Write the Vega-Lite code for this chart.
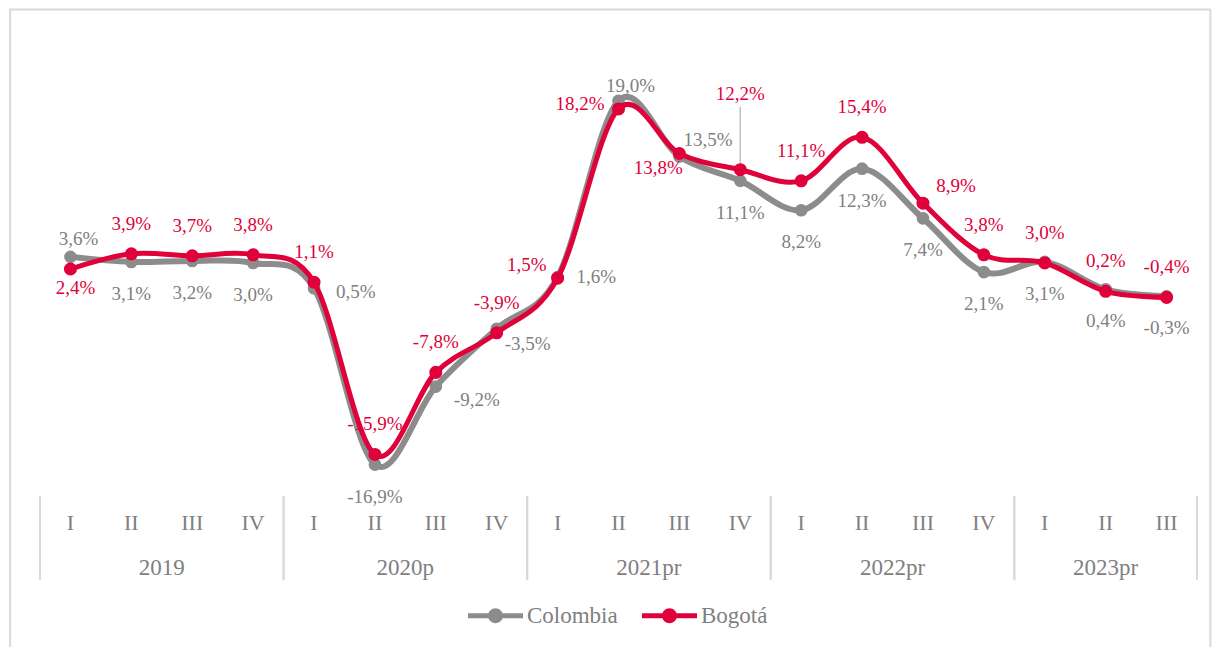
{
  "$schema": "https://vega.github.io/schema/vega-lite/v6.json",
  "autosize": {"type": "none"},
  "width": 1157,
  "height": 456,
  "padding": {"left": 40, "top": 40, "right": 17, "bottom": 151},
  "background": "white",
  "config": {"view": {"stroke": null}},
  "data": {"values": [
    {"t":0,"yr":"2019","s":"Colombia","v":3.6},
    {"t":1,"yr":"2019","s":"Colombia","v":3.1},
    {"t":2,"yr":"2019","s":"Colombia","v":3.2},
    {"t":3,"yr":"2019","s":"Colombia","v":3.0},
    {"t":4,"yr":"2020p","s":"Colombia","v":0.5},
    {"t":5,"yr":"2020p","s":"Colombia","v":-16.9},
    {"t":6,"yr":"2020p","s":"Colombia","v":-9.2},
    {"t":7,"yr":"2020p","s":"Colombia","v":-3.5},
    {"t":8,"yr":"2021pr","s":"Colombia","v":1.6},
    {"t":9,"yr":"2021pr","s":"Colombia","v":19.0},
    {"t":10,"yr":"2021pr","s":"Colombia","v":13.5},
    {"t":11,"yr":"2021pr","s":"Colombia","v":11.1},
    {"t":12,"yr":"2022pr","s":"Colombia","v":8.2},
    {"t":13,"yr":"2022pr","s":"Colombia","v":12.3},
    {"t":14,"yr":"2022pr","s":"Colombia","v":7.4},
    {"t":15,"yr":"2022pr","s":"Colombia","v":2.1},
    {"t":16,"yr":"2023pr","s":"Colombia","v":3.1},
    {"t":17,"yr":"2023pr","s":"Colombia","v":0.4},
    {"t":18,"yr":"2023pr","s":"Colombia","v":-0.3},
    {"t":0,"yr":"2019","s":"Bogotá","v":2.4},
    {"t":1,"yr":"2019","s":"Bogotá","v":3.9},
    {"t":2,"yr":"2019","s":"Bogotá","v":3.7},
    {"t":3,"yr":"2019","s":"Bogotá","v":3.8},
    {"t":4,"yr":"2020p","s":"Bogotá","v":1.1},
    {"t":5,"yr":"2020p","s":"Bogotá","v":-15.9},
    {"t":6,"yr":"2020p","s":"Bogotá","v":-7.8},
    {"t":7,"yr":"2020p","s":"Bogotá","v":-3.9},
    {"t":8,"yr":"2021pr","s":"Bogotá","v":1.5},
    {"t":9,"yr":"2021pr","s":"Bogotá","v":18.2},
    {"t":10,"yr":"2021pr","s":"Bogotá","v":13.8},
    {"t":11,"yr":"2021pr","s":"Bogotá","v":12.2},
    {"t":12,"yr":"2022pr","s":"Bogotá","v":11.1},
    {"t":13,"yr":"2022pr","s":"Bogotá","v":15.4},
    {"t":14,"yr":"2022pr","s":"Bogotá","v":8.9},
    {"t":15,"yr":"2022pr","s":"Bogotá","v":3.8},
    {"t":16,"yr":"2023pr","s":"Bogotá","v":3.0},
    {"t":17,"yr":"2023pr","s":"Bogotá","v":0.2},
    {"t":18,"yr":"2023pr","s":"Bogotá","v":-0.4}
  ]},
  "transform": [
    {"calculate": "replace(replace(format(datum.v, '.1f'), '.', ','), '\u2212', '-') + '%'", "as": "lbl"},
    {"calculate": "['I','II','III','IV'][datum.t % 4]", "as": "q"}
  ],
  "layer": [
    {
      "mark": {"type": "rule", "stroke": "#d9d9d9", "strokeWidth": 2},
      "encoding": {
        "x": {"field": "t", "type": "quantitative", "scale": {"domain": [-0.5, 18.5], "nice": false, "zero": false}, "axis": null},
        "y": {"datum": 0, "type": "quantitative", "scale": {"domain": [-20, 25], "nice": false, "zero": false}, "axis": null}
      }
    },
    {
      "transform": [{"filter": "datum.s == 'Colombia'"}],
      "mark": {"type": "text", "font": "Liberation Serif", "fontSize": 22, "color": "#808080", "baseline": "middle"},
      "encoding": {
        "x": {"field": "t", "type": "quantitative", "axis": null},
        "y": {"datum": -22.7, "type": "quantitative", "axis": null},
        "text": {"field": "q"}
      }
    },
    {
      "transform": [
        {"aggregate": [{"op": "min", "field": "t", "as": "mn"}, {"op": "max", "field": "t", "as": "mx"}], "groupby": ["yr"]},
        {"calculate": "datum.mn - 0.5", "as": "lo"},
        {"calculate": "datum.mx + 0.5", "as": "hi"},
        {"fold": ["lo", "hi"], "as": ["k", "b"]}
      ],
      "mark": {"type": "rule", "stroke": "#d9d9d9", "strokeWidth": 2},
      "encoding": {
        "x": {"field": "b", "type": "quantitative", "axis": null},
        "y": {"datum": -20, "type": "quantitative", "axis": null},
        "y2": {"datum": -28.3}
      }
    },
    {
      "transform": [
        {"aggregate": [{"op": "mean", "field": "t", "as": "c"}], "groupby": ["yr"]}
      ],
      "mark": {"type": "text", "font": "Liberation Serif", "fontSize": 23, "color": "#808080", "baseline": "middle"},
      "encoding": {
        "x": {"field": "c", "type": "quantitative", "axis": null},
        "y": {"datum": -27.1, "type": "quantitative", "axis": null},
        "text": {"field": "yr"}
      }
    },
    {
      "data": {"values": [{}]},
      "mark": {"type": "rect", "fill": "transparent", "stroke": "#d9d9d9", "strokeWidth": 2},
      "encoding": {
        "x": {"datum": -0.99, "type": "quantitative", "axis": null},
        "x2": {"datum": 18.72},
        "y": {"datum": 28, "type": "quantitative", "axis": null},
        "y2": {"datum": -40}
      }
    },
    {
      "transform": [{"filter": "datum.s == 'Colombia'"}],
      "mark": {"type": "line", "interpolate": "cardinal", "strokeWidth": 6, "strokeCap": "round"},
      "encoding": {
        "x": {"field": "t", "type": "quantitative", "axis": null},
        "y": {"field": "v", "type": "quantitative", "axis": null},
        "color": {"field": "s", "type": "nominal",
          "scale": {"domain": ["Colombia", "Bogotá"], "range": ["#8c8c8c", "#e0003a"]},
          "legend": {"orient": "none", "legendX": 428, "legendY": 548, "direction": "horizontal", "title": null,
            "symbolType": "M-1,-0.09H1V0.09H-1Z M0.27,0A0.27,0.27,0,1,1,-0.27,0A0.27,0.27,0,1,1,0.27,0Z",
            "symbolSize": 3025, "symbolStrokeWidth": 0,
            "labelFont": "Liberation Serif", "labelFontSize": 23, "labelColor": "#808080",
            "columnPadding": 24, "labelOffset": 4,
            "encode": {"symbols": {"update": {"fill": {"scale": "color", "field": "value"}, "opacity": {"value": 1}, "strokeWidth": {"value": 0}}}}}}
      }
    },
    {
      "transform": [{"filter": "datum.s == 'Colombia'"}],
      "mark": {"type": "point", "filled": true, "size": 160, "opacity": 1},
      "encoding": {
        "x": {"field": "t", "type": "quantitative", "axis": null},
        "y": {"field": "v", "type": "quantitative", "axis": null},
        "color": {"field": "s", "type": "nominal"}
      }
    },
    {
      "transform": [{"filter": "datum.s == 'Bogotá' && datum.t == 11"}],
      "mark": {"type": "rule", "stroke": "#bfbfbf", "strokeWidth": 1.5},
      "encoding": {
        "x": {"field": "t", "type": "quantitative", "axis": null},
        "y": {"field": "v", "type": "quantitative", "axis": null},
        "y2": {"datum": 18.4}
      }
    },
    {
      "transform": [{"filter": "datum.s == 'Bogotá'"}],
      "mark": {"type": "line", "interpolate": "cardinal", "strokeWidth": 5, "strokeCap": "round"},
      "encoding": {
        "x": {"field": "t", "type": "quantitative", "axis": null},
        "y": {"field": "v", "type": "quantitative", "axis": null},
        "color": {"field": "s", "type": "nominal"}
      }
    },
    {
      "transform": [{"filter": "datum.s == 'Bogotá'"}],
      "mark": {"type": "point", "filled": true, "size": 170, "opacity": 1},
      "encoding": {
        "x": {"field": "t", "type": "quantitative", "axis": null},
        "y": {"field": "v", "type": "quantitative", "axis": null},
        "color": {"field": "s", "type": "nominal"}
      }
    },
    {
      "transform": [{"filter": "datum.s == 'Colombia' && indexof([1,2,3,5,11,12,13,14,15,16,17,18], datum.t) >= 0"}],
      "mark": {"type": "text", "font": "Liberation Serif", "fontSize": 19, "color": "#808080", "baseline": "middle", "dy": 32},
      "encoding": {"x": {"field": "t", "type": "quantitative", "axis": null}, "y": {"field": "v", "type": "quantitative", "axis": null}, "text": {"field": "lbl"}}
    },
    {
      "transform": [{"filter": "datum.s == 'Colombia' && datum.t == 0"}],
      "mark": {"type": "text", "font": "Liberation Serif", "fontSize": 19, "color": "#808080", "baseline": "middle", "dx": 8, "dy": -18},
      "encoding": {"x": {"field": "t", "type": "quantitative", "axis": null}, "y": {"field": "v", "type": "quantitative", "axis": null}, "text": {"field": "lbl"}}
    },
    {
      "transform": [{"filter": "datum.s == 'Colombia' && datum.t == 9"}],
      "mark": {"type": "text", "font": "Liberation Serif", "fontSize": 19, "color": "#808080", "baseline": "middle", "dx": 12, "dy": -15},
      "encoding": {"x": {"field": "t", "type": "quantitative", "axis": null}, "y": {"field": "v", "type": "quantitative", "axis": null}, "text": {"field": "lbl"}}
    },
    {
      "transform": [{"filter": "datum.s == 'Colombia' && datum.t == 10"}],
      "mark": {"type": "text", "font": "Liberation Serif", "fontSize": 19, "color": "#808080", "baseline": "middle", "align": "left", "dx": 4, "dy": -17},
      "encoding": {"x": {"field": "t", "type": "quantitative", "axis": null}, "y": {"field": "v", "type": "quantitative", "axis": null}, "text": {"field": "lbl"}}
    },
    {
      "transform": [{"filter": "datum.s == 'Colombia' && datum.t == 4"}],
      "mark": {"type": "text", "font": "Liberation Serif", "fontSize": 19, "color": "#808080", "baseline": "middle", "align": "left", "dx": 22, "dy": 4},
      "encoding": {"x": {"field": "t", "type": "quantitative", "axis": null}, "y": {"field": "v", "type": "quantitative", "axis": null}, "text": {"field": "lbl"}}
    },
    {
      "transform": [{"filter": "datum.s == 'Colombia' && datum.t == 6"}],
      "mark": {"type": "text", "font": "Liberation Serif", "fontSize": 19, "color": "#808080", "baseline": "middle", "align": "left", "dx": 18, "dy": 13},
      "encoding": {"x": {"field": "t", "type": "quantitative", "axis": null}, "y": {"field": "v", "type": "quantitative", "axis": null}, "text": {"field": "lbl"}}
    },
    {
      "transform": [{"filter": "datum.s == 'Colombia' && datum.t == 7"}],
      "mark": {"type": "text", "font": "Liberation Serif", "fontSize": 19, "color": "#808080", "baseline": "middle", "align": "left", "dx": 8, "dy": 15},
      "encoding": {"x": {"field": "t", "type": "quantitative", "axis": null}, "y": {"field": "v", "type": "quantitative", "axis": null}, "text": {"field": "lbl"}}
    },
    {
      "transform": [{"filter": "datum.s == 'Colombia' && datum.t == 8"}],
      "mark": {"type": "text", "font": "Liberation Serif", "fontSize": 19, "color": "#808080", "baseline": "middle", "align": "left", "dx": 19, "dy": 0},
      "encoding": {"x": {"field": "t", "type": "quantitative", "axis": null}, "y": {"field": "v", "type": "quantitative", "axis": null}, "text": {"field": "lbl"}}
    },
    {
      "transform": [{"filter": "datum.s == 'Bogotá' && indexof([1,2,3,4,5,6,7,12,13,15,16,17,18], datum.t) >= 0"}],
      "mark": {"type": "text", "font": "Liberation Serif", "fontSize": 19, "color": "#e0003a", "baseline": "middle", "dy": -30},
      "encoding": {"x": {"field": "t", "type": "quantitative", "axis": null}, "y": {"field": "v", "type": "quantitative", "axis": null}, "text": {"field": "lbl"}}
    },
    {
      "transform": [{"filter": "datum.s == 'Bogotá' && datum.t == 0"}],
      "mark": {"type": "text", "font": "Liberation Serif", "fontSize": 19, "color": "#e0003a", "baseline": "middle", "dx": 5, "dy": 19},
      "encoding": {"x": {"field": "t", "type": "quantitative", "axis": null}, "y": {"field": "v", "type": "quantitative", "axis": null}, "text": {"field": "lbl"}}
    },
    {
      "transform": [{"filter": "datum.s == 'Bogotá' && datum.t == 8"}],
      "mark": {"type": "text", "font": "Liberation Serif", "fontSize": 19, "color": "#e0003a", "baseline": "middle", "align": "right", "dx": -11, "dy": -13},
      "encoding": {"x": {"field": "t", "type": "quantitative", "axis": null}, "y": {"field": "v", "type": "quantitative", "axis": null}, "text": {"field": "lbl"}}
    },
    {
      "transform": [{"filter": "datum.s == 'Bogotá' && datum.t == 9"}],
      "mark": {"type": "text", "font": "Liberation Serif", "fontSize": 19, "color": "#e0003a", "baseline": "middle", "align": "right", "dx": -14, "dy": -5},
      "encoding": {"x": {"field": "t", "type": "quantitative", "axis": null}, "y": {"field": "v", "type": "quantitative", "axis": null}, "text": {"field": "lbl"}}
    },
    {
      "transform": [{"filter": "datum.s == 'Bogotá' && datum.t == 10"}],
      "mark": {"type": "text", "font": "Liberation Serif", "fontSize": 19, "color": "#e0003a", "baseline": "middle", "dx": -21, "dy": 15},
      "encoding": {"x": {"field": "t", "type": "quantitative", "axis": null}, "y": {"field": "v", "type": "quantitative", "axis": null}, "text": {"field": "lbl"}}
    },
    {
      "transform": [{"filter": "datum.s == 'Bogotá' && datum.t == 11"}],
      "mark": {"type": "text", "font": "Liberation Serif", "fontSize": 19, "color": "#e0003a", "baseline": "middle", "dy": -76},
      "encoding": {"x": {"field": "t", "type": "quantitative", "axis": null}, "y": {"field": "v", "type": "quantitative", "axis": null}, "text": {"field": "lbl"}}
    },
    {
      "transform": [{"filter": "datum.s == 'Bogotá' && datum.t == 14"}],
      "mark": {"type": "text", "font": "Liberation Serif", "fontSize": 19, "color": "#e0003a", "baseline": "middle", "dx": 33, "dy": -17},
      "encoding": {"x": {"field": "t", "type": "quantitative", "axis": null}, "y": {"field": "v", "type": "quantitative", "axis": null}, "text": {"field": "lbl"}}
    }
  ]
}
